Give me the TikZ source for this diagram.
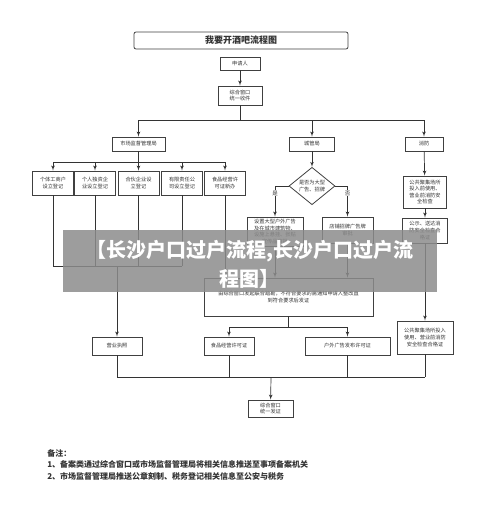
\documentclass[tikz,border=0pt]{standalone}
\usepackage{fontspec}
\setmainfont{Noto Sans CJK SC}
\usetikzlibrary{%
  arrows,%
  shapes,%
  shapes.geometric,% wg. diamond
  positioning,%
  calc%
}

\begin{document}
\begin{tikzpicture}[
  x=1pt, y=-1pt,
  font=\fontsize{5.2}{6.6}\selectfont,
  >=latex',
  line width=0.7pt,
  color=black!80,
  box/.style={rectangle, draw=black!75, fill=white, align=center, inner sep=1pt, line width=0.8pt},
  titlebox/.style={box, rounded corners=2pt, minimum width=214pt, minimum height=17pt, font=\bfseries\fontsize{9}{10}\selectfont},
  ask/.style={diamond, draw=black!75, fill=white, align=center, inner sep=0pt, minimum width=46pt, minimum height=36pt, line width=0.8pt},
  yesno/.style={fill=white, inner sep=0.5pt, font=\fontsize{5.5}{6}\selectfont}
]
\useasboundingbox (0,0) rectangle (500,523);

\node[titlebox] (title) at (241,40.5) {我要开酒吧流程图};

\node[box, minimum width=40pt, minimum height=13pt] (apply) at (240,63.5) {申请人};
\node[box, minimum width=44pt, minimum height=19pt] (recv) at (240,95.5) {综合窗口\\统一收件};
\draw[->] (apply) -- (recv);

% three departments
\node[box, minimum width=53pt, minimum height=14pt] (scjg) at (138.5,144) {市场监督管理局};
\node[box, minimum width=45pt, minimum height=14pt] (cgj) at (312,144) {城管局};
\node[box, minimum width=38pt, minimum height=14pt] (xf) at (424,144) {消防};

\coordinate (split1) at (240,120);
\draw (recv) -- (split1);
\draw[->] (split1) -| (scjg);
\draw[->] (split1) -| (xf);
\draw[->] (cgj |- split1) -- (cgj);

% market supervision
\foreach \x/\name/\txt in {53/reg1/{个体工商户\\设立登记},
                          95/reg2/{个人独资企\\业设立登记},
                          138.5/reg3/{合伙企业设\\立登记},
                          182/reg4/{有限责任公\\司设立登记},
                          225/reg5/{食品经营许\\可证新办}} {
  \node[box, minimum width=41pt, minimum height=24pt] (\name) at (\x,183) {\txt};
}
\coordinate (split2) at (138.5,162);
\draw (scjg) -- (split2);
\foreach \n in {reg1,reg2,reg3,reg4,reg5} {
  \draw[->] (split2) -| (\n);
}

\node[box, minimum width=50pt, minimum height=18pt] (yyzz) at (117,346) {营业执照};
\coordinate (merge1) at (117,266);
\foreach \n in {reg1,reg2,reg3,reg4} {
  \draw (\n) -- (\n |- merge1);
}
\draw (reg1 |- merge1) -- (reg4 |- merge1);
\draw[->] (merge1) -- (yyzz);

% city management
\node[ask] (big) at (312,186) {是否为大型\\广告、招牌};
\draw[->] (cgj) -- (big);
\node[box, minimum width=56pt, minimum height=29pt] (gg1) at (275,231.5) {设置大型户外广告\\及在城市建筑物、\\设施上悬挂、张贴\\宣传品审批};
\node[box, minimum width=51pt, minimum height=26pt] (gg2) at (347.5,230) {店铺招牌广告牌\\审批};
\draw[->] (big.west) -| node[yesno, pos=0.62] {是} (gg1);
\draw[->] (big.east) -| node[yesno, pos=0.62] {否} (gg2);

\node[box, minimum width=169pt, minimum height=38pt] (lhkc) at (288.5,297) {由综合窗口发起联合踏勘，不符合要求的需通知申请人整改直\\到符合要求后发证};
\draw[->] (gg1) -- (gg1 |- lhkc.north);
\draw[->] (gg2) -- (gg2 |- lhkc.north);
\draw[->] (reg5) -- (reg5 |- lhkc.north);

\node[box, minimum width=50pt, minimum height=18pt] (spxk) at (229,346) {食品经营许可证};
\node[box, minimum width=85pt, minimum height=18pt] (hwgg) at (347.5,346) {户外广告发布许可证};
\coordinate (split3) at (288.5,327);
\draw (lhkc) -- (split3);
\draw[->] (split3) -| (spxk);
\draw[->] (split3) -| (hwgg);

% fire
\node[box, minimum width=43pt, minimum height=32pt] (xf1) at (425,192) {公共聚集场所\\投入前使用、\\营业前消防安\\全检查};
\node[box, minimum width=45pt, minimum height=25pt] (xf2) at (425,230.5) {公示、送达消\\防安全检查合\\格证};
\node[box, minimum width=56pt, minimum height=33pt] (xf3) at (425,337.5) {公共聚集场所投入\\使用、营业前消防\\安全检查合格证};
\draw[->] (xf) -- (xf1);
\draw[->] (xf1) -- (xf2);
\draw[->] (xf2) -- (xf3);

% issue
\node[box, minimum width=45pt, minimum height=17pt] (fz) at (270.5,408.5) {综合窗口\\统一发证};
\coordinate (merge2) at (271,377);
\foreach \n in {yyzz,spxk,hwgg,xf3} {
  \draw (\n) -- (\n |- merge2);
}
\draw (yyzz |- merge2) -- (xf3 |- merge2);
\draw[->] (merge2) -- (fz);

\node[anchor=north west, align=left, inner sep=0pt, font=\bfseries\fontsize{8}{11.5}\selectfont, text=black!80] (note) at (47,449)
  {备注：\\1、备案类通过综合窗口或市场监督管理局将相关信息推送至事项备案机关\\2、市场监督管理局推送公章刻制、税务登记相关信息至公安与税务};

% caption band
\fill[black!45, opacity=0.85] (63,230) rectangle (437,292);
\node[align=center, text=white, font=\bfseries\fontsize{20}{29}\selectfont] (band) at (250,264.5) {【长沙户口过户流程,长沙户口过户流\\程图】};

\end{tikzpicture}
\end{document}
